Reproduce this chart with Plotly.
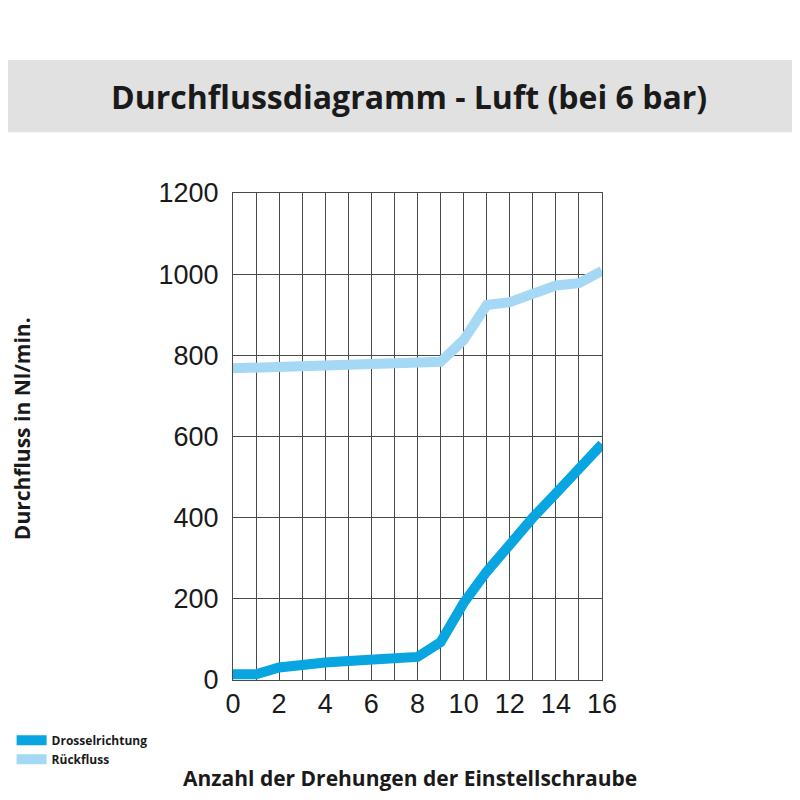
import plotly.graph_objects as go

# Anzahl der Drehungen
turns = list(range(0, 17))
# Durchfluss in Nl/min
drossel = [14, 14, 31, 39, 43, 47, 51, 54, 57, 93, 190, 267, 337, 400, 460, 519, 581]
rueck = [768, 770, 771, 771, 772, 772, 775, 777, 778, 784, 838, 924, 931, 950, 972, 978, 1008]

y_ticks = [0, 200, 400, 600, 800, 1000, 1200]
x_ticks = [0, 2, 4, 6, 8, 10, 12, 14, 16]

DARK_BLUE = '#08a5e0'
LIGHT_BLUE = '#a5d8f5'
GRID = '#4a4a4a'
TEXT = '#1a1a1a'
TICK_FONT = 'Liberation Sans'

fig = go.Figure()

fig.add_trace(go.Scatter(
    x=turns, y=drossel, mode='lines', name='Drosselrichtung',
    line=dict(color=DARK_BLUE, width=10),
))
fig.add_trace(go.Scatter(
    x=turns, y=rueck, mode='lines', name='Rückfluss',
    line=dict(color=LIGHT_BLUE, width=10),
))

# grey title band
fig.add_shape(type='rect', xref='paper', yref='paper',
              x0=-0.66, x1=1.55, y0=1.125, y1=1.273,
              fillcolor='#e1e1e1', line=dict(width=0), layer='below')

fig.add_annotation(text='<b>Durchflussdiagramm - Luft (bei 6 bar)</b>',
                   xref='paper', yref='paper', x=0.478, y=1.199,
                   xanchor='center', yanchor='middle',
                   showarrow=False, font=dict(size=32, color=TEXT, family='Open Sans'))
fig.add_annotation(text='<b>Anzahl der Drehungen der Einstellschraube</b>',
                   xref='paper', yref='paper', x=0.48, y=-0.201,
                   xanchor='center', yanchor='middle',
                   showarrow=False, font=dict(size=21, color=TEXT, family='Open Sans'))
fig.add_annotation(text='<b>Durchfluss in Nl/min.</b>',
                   xref='paper', yref='paper', x=-0.572, y=0.517, textangle=-90,
                   xanchor='center', yanchor='middle',
                   showarrow=False, font=dict(size=21, color=TEXT, family='Open Sans'))

fig.update_layout(
    width=784, height=784,
    margin=dict(l=225, r=190, t=185, b=112, autoexpand=False),
    paper_bgcolor='white', plot_bgcolor='white',
    font=dict(family='Liberation Sans', color=TEXT),
    showlegend=True,
    legend=dict(x=-0.6, y=-0.094, xanchor='left', yanchor='top',
                bgcolor='rgba(0,0,0,0)', tracegroupgap=0,
                font=dict(size=12, family='Open Sans', color=TEXT, weight='bold'),
                itemwidth=30),
)

fig.update_xaxes(
    range=[0, 16], tickvals=x_ticks, showgrid=True, gridcolor=GRID, gridwidth=1,
    minor=dict(dtick=1, tick0=0, showgrid=True, gridcolor=GRID),
    showline=True, linecolor=GRID, linewidth=1, mirror=True,
    tickfont=dict(size=27, color=TEXT, family=TICK_FONT), ticks='', ticklabelstandoff=0,
    zeroline=False,
)
fig.update_yaxes(
    range=[0, 1200], tickvals=y_ticks, showgrid=True, gridcolor=GRID, gridwidth=1,
    showline=True, linecolor=GRID, linewidth=1, mirror=True,
    tickfont=dict(size=27, color=TEXT, family=TICK_FONT), ticks='', ticklabelstandoff=8,
    zeroline=False,
)

fig.write_html('out.html')
